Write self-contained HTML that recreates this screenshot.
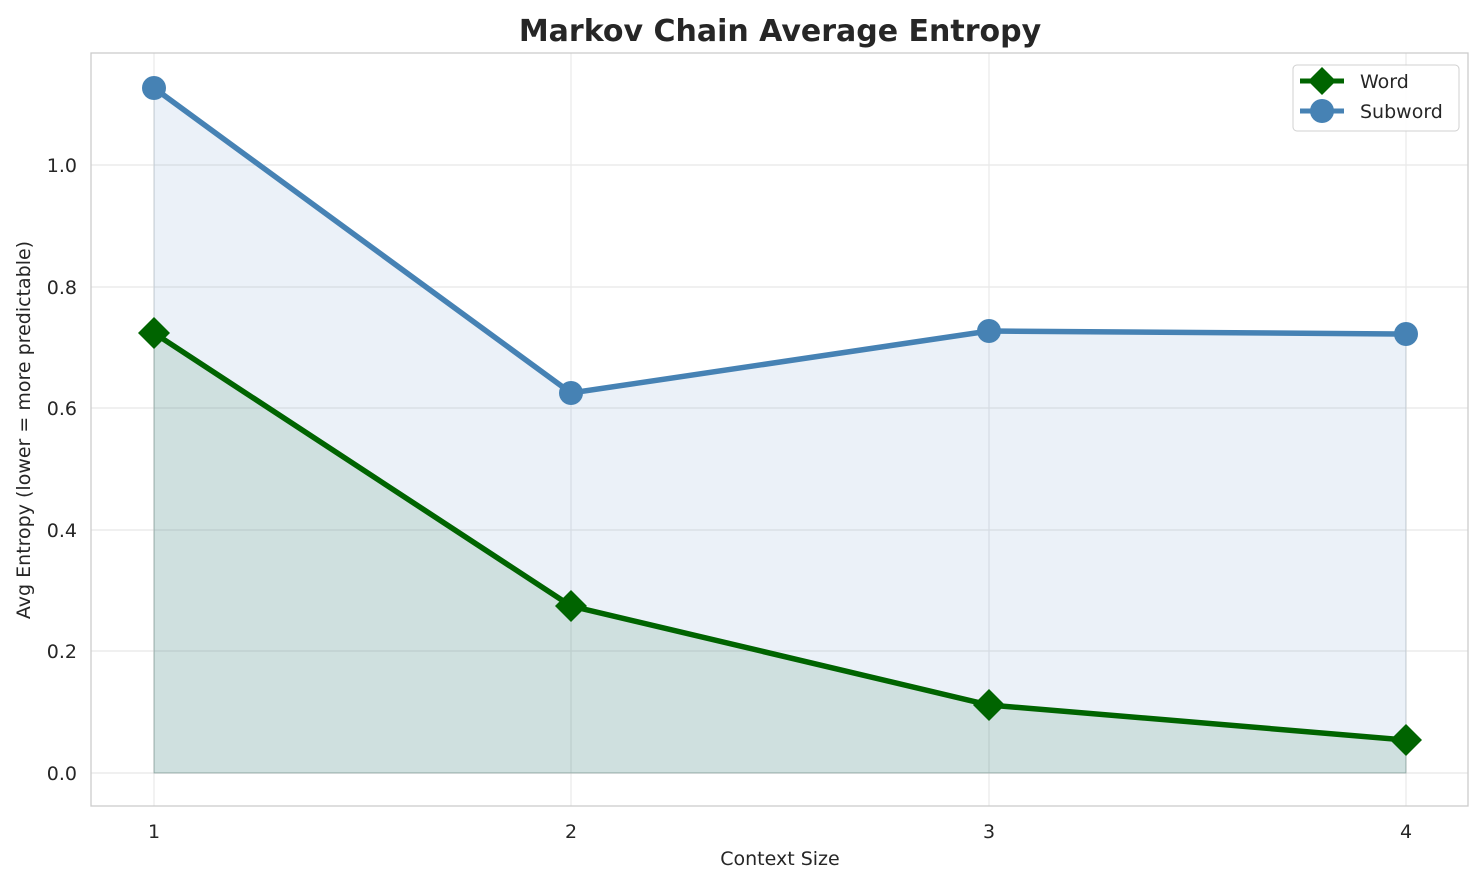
<!DOCTYPE html>
<html><head><meta charset="utf-8"><style>
body{margin:0;background:#fff;}
svg text{font-family:"DejaVu Sans","Liberation Sans",sans-serif;fill:#262626;}
</style></head><body>
<svg width="1484" height="885" xmlns="http://www.w3.org/2000/svg">
<rect width="1484" height="885" fill="#fff"/>
<g stroke="#e8e8e8" stroke-width="1.2">
<line x1="154" y1="53" x2="154" y2="806"/><line x1="571" y1="53" x2="571" y2="806"/>
<line x1="989" y1="53" x2="989" y2="806"/><line x1="1406" y1="53" x2="1406" y2="806"/>
<line x1="91" y1="773" x2="1468" y2="773"/><line x1="91" y1="651" x2="1468" y2="651"/>
<line x1="91" y1="530" x2="1468" y2="530"/><line x1="91" y1="408" x2="1468" y2="408"/>
<line x1="91" y1="287" x2="1468" y2="287"/><line x1="91" y1="165" x2="1468" y2="165"/>
</g>
<polygon points="154,88 571,393 989,331 1406,334 1406,773 154,773" fill="#4a7cc0" fill-opacity="0.11" stroke="#8899aa" stroke-opacity="0.3"/>
<polygon points="154,333 571,606 989,705 1406,740 1406,773 154,773" fill="#2e7d4f" fill-opacity="0.15" stroke="#557766" stroke-opacity="0.3"/>
<polyline points="154,88 571,393 989,331 1406,334" fill="none" stroke="#4682b4" stroke-width="5.5"/>
<polyline points="154,333 571,606 989,705 1406,740" fill="none" stroke="#006400" stroke-width="5.5"/>
<g fill="#4682b4"><circle cx="154" cy="88" r="12"/><circle cx="571" cy="393" r="12"/><circle cx="989" cy="331" r="12"/><circle cx="1406" cy="334" r="12"/></g>
<g fill="#006400">
<polygon points="154,317 170,333 154,349 138,333"/><polygon points="571,590 587,606 571,622 555,606"/>
<polygon points="989,689 1005,705 989,721 973,705"/><polygon points="1406,724 1422,740 1406,756 1390,740"/>
</g>
<rect x="91" y="53" width="1377" height="753" fill="none" stroke="#cccccc" stroke-width="1.3"/>
<g font-size="19" text-anchor="middle">
<text x="154" y="838">1</text><text x="571" y="838">2</text><text x="989" y="838">3</text><text x="1406" y="838">4</text>
</g>
<g font-size="19" text-anchor="end">
<text x="77" y="780">0.0</text><text x="77" y="658">0.2</text><text x="77" y="537">0.4</text>
<text x="77" y="415">0.6</text><text x="77" y="294">0.8</text><text x="77" y="172">1.0</text>
</g>
<text x="780" y="865" font-size="19" text-anchor="middle">Context Size</text>
<text transform="translate(30,430) rotate(-90)" font-size="19" text-anchor="middle">Avg Entropy (lower = more predictable)</text>
<text x="780" y="41" font-size="30" font-weight="bold" text-anchor="middle">Markov Chain Average Entropy</text>
<rect x="1293" y="65" width="166" height="66" rx="4" fill="#fff" fill-opacity="0.85" stroke="#d0d0d0"/>
<line x1="1300" y1="81" x2="1344" y2="81" stroke="#006400" stroke-width="5"/>
<polygon points="1322,67 1336,81 1322,95 1308,81" fill="#006400"/>
<line x1="1300" y1="111" x2="1344" y2="111" stroke="#4682b4" stroke-width="5"/>
<circle cx="1322" cy="111" r="12" fill="#4682b4"/>
<text x="1360" y="88" font-size="19">Word</text>
<text x="1360" y="118" font-size="19">Subword</text>
</svg>
</body></html>
